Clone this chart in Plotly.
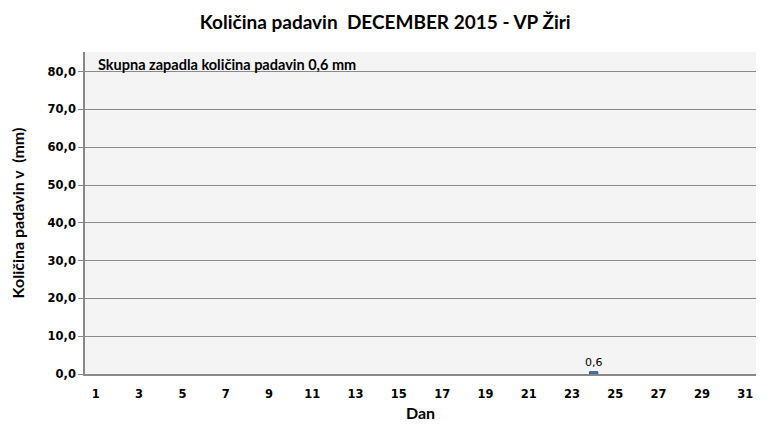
import plotly.graph_objects as go

days = list(range(1, 32))
rain = [0]*31
rain[23] = 0.6  # day 24
bar_labels = ["0,6" if v > 0 else "" for v in rain]
x_ticks = list(range(1, 32, 2))
y_ticks = [0, 10, 20, 30, 40, 50, 60, 70, 80]
title = "Količina padavin  DECEMBER 2015 - VP Žiri"
note = "Skupna zapadla količina padavin 0,6 mm"

fig = go.Figure()
fig.add_trace(go.Bar(
    x=days, y=rain, width=0.38,
    marker=dict(color="#4F81BD",
                line=dict(color="#2c4d75", width=[1 if v > 0 else 0 for v in rain])),
    text=bar_labels, textposition="outside", cliponaxis=False, constraintext="none",
    textfont=dict(family="DejaVu Sans", size=11, color="#000"),
))

fig.update_layout(
    width=762, height=431,
    margin=dict(l=77, r=14, t=44, b=65),
    paper_bgcolor="white", plot_bgcolor="#F4F4F4",
    separators=",.",
    showlegend=False,
    uniformtext=dict(minsize=11, mode="show"),
    title=dict(text=f"<b>{title}</b>", x=0.495, xanchor="center", y=0.967, yanchor="middle",
               font=dict(family="Lato", size=19, color="#000")),
    font=dict(family="DejaVu Sans", color="#000"),
    annotations=[dict(text=f"<b>{note}</b>", xref="paper", yref="paper", x=0.0164, y=0.96,
                      xanchor="left", yanchor="middle", showarrow=False,
                      font=dict(family="Lato", size=14.5, color="#000"))],
)
fig.update_xaxes(range=[0.5, 31.5], tickmode="array", tickvals=x_ticks,
                 ticktext=[f"<b>{t}</b>" for t in x_ticks],
                 tickfont=dict(family="DejaVu Sans", size=11.5, color="#000"),
                 showgrid=False, showline=True, linecolor="#888", linewidth=1.5,
                 ticks="outside", ticklen=8, tickcolor="rgba(0,0,0,0)",
                 zeroline=False, automargin=False,
                 title=dict(text="<b>Dan</b>", font=dict(family="Lato", size=16), standoff=8))
fig.update_yaxes(range=[0, 85.2], tickmode="array", tickvals=y_ticks,
                 ticktext=[f"<b>{t:.1f}</b>".replace(".", ",") for t in y_ticks],
                 tickfont=dict(family="DejaVu Sans", size=11.5, color="#000"),
                 showgrid=True, gridcolor="#8a8a8a", gridwidth=1,
                 showline=True, linecolor="#888", linewidth=1.5,
                 ticks="outside", ticklen=5, tickcolor="#888", zeroline=False, automargin=False,
                 title=dict(text="<b>Količina padavin v  (mm)</b>", font=dict(family="Lato", size=16), standoff=20))

fig.write_html("out.html")
